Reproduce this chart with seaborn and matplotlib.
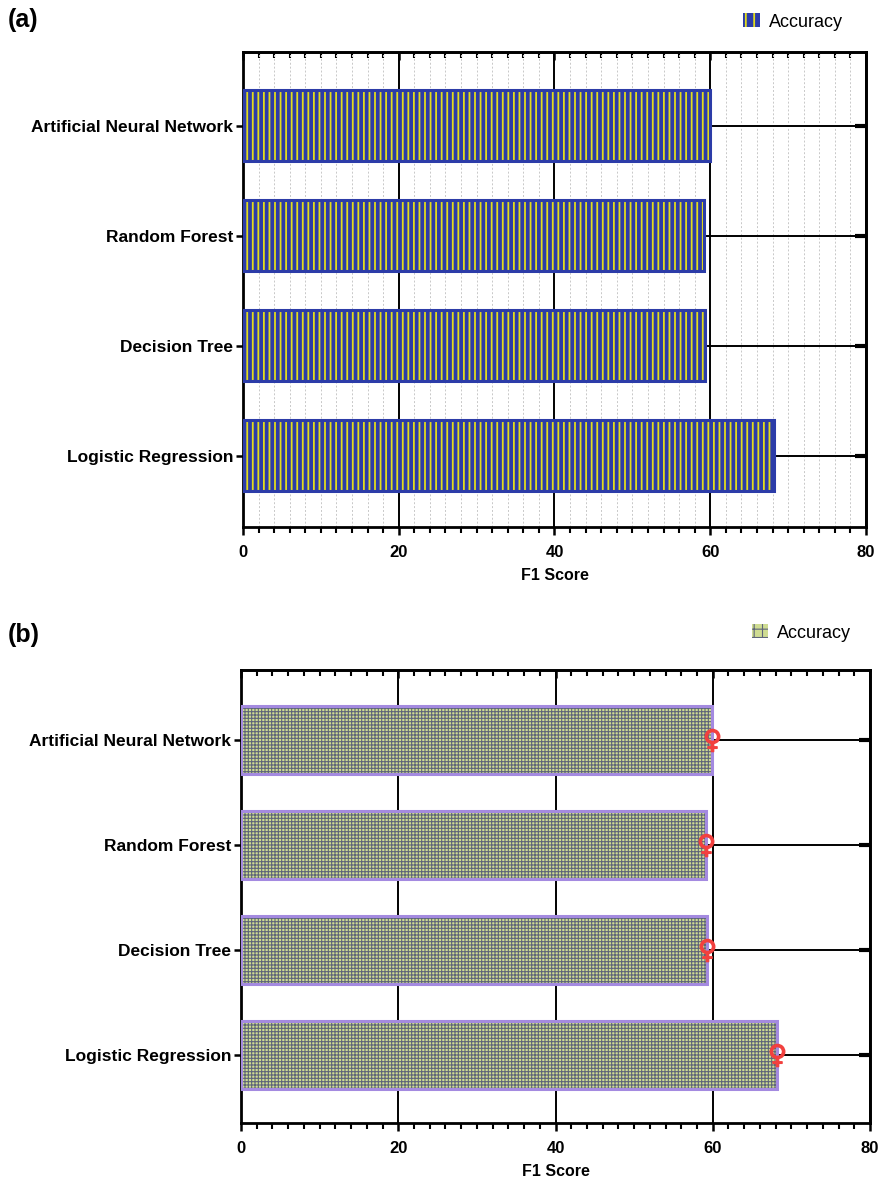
import matplotlib
matplotlib.use("Agg")
import matplotlib.pyplot as plt
import matplotlib.patches as mpatches
from matplotlib.ticker import MultipleLocator
import seaborn as sns

models = ["Artificial Neural Network", "Random Forest", "Decision Tree", "Logistic Regression"]
f1_a = [60.0, 59.2, 59.3, 68.2]
f1_b = [59.9, 59.2, 59.3, 68.2]
x_ticks = [0, 20, 40, 60, 80]
legend_label = "Accuracy"

sns.set_theme(style="white")
plt.rcParams["font.family"] = ["Liberation Sans", "DejaVu Sans"]
plt.rcParams["text.color"] = "black"
plt.rcParams["axes.labelcolor"] = "black"
plt.rcParams["xtick.color"] = "black"
plt.rcParams["ytick.color"] = "black"

BLUE = "#2c3ca8"
YELLOW = "#e2dc1c"
GREEN = "#cfdc92"
DARK = "#5e6579"
LAVENDER = "#a48ae0"
RED = "#f2403e"

fig = plt.figure(figsize=(8.84, 11.84), dpi=100)
ax_a = fig.add_axes([0.2749, 0.5549, 0.7047, 0.4012])
ax_b = fig.add_axes([0.2726, 0.0515, 0.7116, 0.3826])


def style_axes(ax, dotted_minor):
    ax.set_xlim(0, 80)
    ax.set_ylim(3.65, -0.67)
    ax.xaxis.set_major_locator(MultipleLocator(20))
    ax.xaxis.set_minor_locator(MultipleLocator(2))
    ax.set_xticks(x_ticks)
    ax.set_axisbelow(True)
    # major vertical lines and category lines, solid black, behind bars
    ax.grid(True, which="major", axis="both", color="black", linewidth=1.4, linestyle="-")
    if dotted_minor:
        ax.grid(True, which="minor", axis="x", color="#c8c8c8", linewidth=0.7, linestyle=(0, (2, 2)))
    for s in ax.spines.values():
        s.set_visible(True)
        s.set_color("black")
        s.set_linewidth(2.0)
    ax.tick_params(axis="x", which="major", bottom=True, length=6, width=1.8, color="black",
                   direction="out", labelsize=12, pad=7)
    ax.tick_params(axis="x", which="minor", bottom=True, length=4, width=1.5, color="black",
                   direction="out")
    ax.tick_params(axis="y", which="major", left=True, right=False, length=5, width=1.8,
                   color="black", direction="out", labelsize=12.5, pad=2)
    top = ax.secondary_xaxis("top")
    top.xaxis.set_major_locator(MultipleLocator(20))
    top.xaxis.set_minor_locator(MultipleLocator(2))
    top.tick_params(which="major", direction="in", length=6, width=1.8, labeltop=False)
    top.tick_params(which="minor", direction="in", length=4, width=1.5)
    top.spines["top"].set_linewidth(2.0)
    right = ax.secondary_yaxis("right")
    right.set_yticks(range(len(models)))
    right.tick_params(direction="in", length=8, width=3, labelright=False)
    right.spines["right"].set_linewidth(2.0)
    for lbl in ax.get_xticklabels() + ax.get_yticklabels():
        lbl.set_fontweight("bold")
    ax.set_xlabel("F1 Score", fontsize=11.5, fontweight="bold", labelpad=6)
    ax.set_ylabel("")


def texture_bars(ax, face, hatch_col, edge, hatch, hatch_lw):
    for p in list(ax.patches):
        p.set_facecolor(face)
        p.set_edgecolor(hatch_col)
        p.set_linewidth(0)
        p.set_hatch(hatch)
        if hasattr(p, "set_hatch_linewidth"):
            p.set_hatch_linewidth(hatch_lw)
        border = mpatches.Rectangle(p.get_xy(), p.get_width(), p.get_height(), fill=False,
                                    edgecolor=edge, linewidth=2.2, zorder=p.get_zorder() + 0.1)
        ax.add_patch(border)


def legend_handle(face, hatch_col, edge, hatch, hatch_lw):
    h = mpatches.Patch(facecolor=face, edgecolor=hatch_col, hatch=hatch, linewidth=0)
    if hasattr(h, "set_hatch_linewidth"):
        h.set_hatch_linewidth(hatch_lw)
    return h


# (a)
plt.rcParams["hatch.linewidth"] = 1.3
sns.barplot(x=f1_a, y=models, orient="h", ax=ax_a, width=0.65, color=BLUE, zorder=3)
texture_bars(ax_a, BLUE, YELLOW, BLUE, "|||", 1.3)
style_axes(ax_a, dotted_minor=True)
ha = legend_handle(BLUE, YELLOW, BLUE, "||", 1.3)
fig.legend([ha], [legend_label], loc="center", bbox_to_anchor=(0.897, 1 - 22 / 1184),
           frameon=False, fontsize=13, handlelength=0.9, handleheight=0.8, handletextpad=0.5)
fig.text(0.009, 1 - 20 / 1184, "(a)", fontsize=18, fontweight="bold", va="center")

# (b)
plt.rcParams["hatch.linewidth"] = 0.8
sns.barplot(x=f1_b, y=models, orient="h", ax=ax_b, width=0.65, color=GREEN, zorder=3)
texture_bars(ax_b, GREEN, DARK, LAVENDER, "+" * 5, 0.8)
style_axes(ax_b, dotted_minor=False)
ax_b.plot(f1_b, range(len(models)), linestyle="none", marker="$\u2640$", markersize=16,
          color=RED, zorder=5)
hb = legend_handle(GREEN, DARK, LAVENDER, "+" * 2, 0.8)
fig.legend([hb], [legend_label], loc="center", bbox_to_anchor=(0.907, 1 - 633 / 1184),
           frameon=False, fontsize=13, handlelength=0.9, handleheight=0.8, handletextpad=0.5)
fig.text(0.009, 1 - 635 / 1184, "(b)", fontsize=18, fontweight="bold", va="center")

fig.savefig("out.png", dpi=100)
